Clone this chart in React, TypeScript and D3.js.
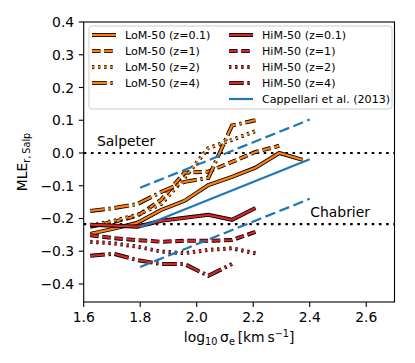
import * as d3 from "d3";

// log10 sigma_e bin centres
const sigmaBins = [1.623, 1.707, 1.79, 1.874, 1.957, 2.041, 2.125, 2.208, 2.292, 2.375];

// MLE_r relative to Salpeter
const lomZ01 = [-0.247, -0.231, -0.213, -0.174, -0.146, -0.098, -0.073, -0.045, 0.0, -0.021];
const lomZ1 = [-0.225, -0.21, -0.192, -0.143, -0.06, -0.057, -0.027, 0.003, 0.022];
const lomZ2 = [-0.222, -0.207, -0.189, -0.156, -0.076, 0.015, 0.04, 0.067];
const lomZ4 = [-0.177, -0.168, -0.156, -0.119, -0.088, -0.076, 0.084, 0.1];
const himZ01 = [-0.219, -0.222, -0.225, -0.207, -0.198, -0.189, -0.204, -0.168];
const himZ1 = [-0.251, -0.26, -0.266, -0.271, -0.268, -0.268, -0.266, -0.241];
const himZ2 = [-0.271, -0.276, -0.286, -0.301, -0.306, -0.296, -0.291, -0.306];
const himZ4 = [-0.314, -0.308, -0.327, -0.339, -0.339, -0.375, -0.339];

// Cappellari et al. (2013) relation and its scatter
const cappX = [1.8, 2.4];
const cappY = [-0.227, -0.019];
const cappScatter = 0.121;

const salpeterLevel = 0;
const chabrierLevel = -0.217;

const xTicks = [1.6, 1.8, 2.0, 2.2, 2.4, 2.6];
const yTicks = [-0.4, -0.3, -0.2, -0.1, 0.0, 0.1, 0.2, 0.3, 0.4];

const ORANGE = "#ff7f0e";
const RED = "#d62728";
const BLUE = "#1f77b4";

const W = 415;
const H = 363;
const left = 83.7, right = 394.5, top = 22, bottom = 302;

const x = d3.scaleLinear().domain([1.6, 2.7]).range([left, right]);
const y = d3.scaleLinear().domain([-0.455, 0.4]).range([bottom, top]);

const lw = 2.3;
const outlineW = 4.0;
const dashes: Record<string, string> = {
  solid: "none",
  dashed: `${3.7 * lw} ${1.6 * lw}`,
  dotted: `${1 * lw} ${1.65 * lw}`,
  dashdot: `${6.4 * lw} ${1.6 * lw} ${1 * lw} ${1.6 * lw}`,
};

const series = [
  { label: "LoM-50 (z=0.1)", values: lomZ01, color: ORANGE, style: "solid", col: 0, row: 0 },
  { label: "LoM-50 (z=1)", values: lomZ1, color: ORANGE, style: "dashed", col: 0, row: 1 },
  { label: "LoM-50 (z=2)", values: lomZ2, color: ORANGE, style: "dotted", col: 0, row: 2 },
  { label: "LoM-50 (z=4)", values: lomZ4, color: ORANGE, style: "dashdot", col: 0, row: 3 },
  { label: "HiM-50 (z=0.1)", values: himZ01, color: RED, style: "solid", col: 1, row: 0 },
  { label: "HiM-50 (z=1)", values: himZ1, color: RED, style: "dashed", col: 1, row: 1 },
  { label: "HiM-50 (z=2)", values: himZ2, color: RED, style: "dotted", col: 1, row: 2 },
  { label: "HiM-50 (z=4)", values: himZ4, color: RED, style: "dashdot", col: 1, row: 3 },
];

const line = d3
  .line<[number, number]>()
  .x((d) => x(d[0]))
  .y((d) => y(d[1]));

const font = "DejaVu Sans, sans-serif";
const fs = 13.9;
const legendFs = 11.1;

function fmt(v: number) {
  return d3.format(".1f")(v).replace("-", "\u2212");
}

export default function App() {
  const cappBlue = cappX.map((v, i) => [v, cappY[i]] as [number, number]);
  const cappUp = cappX.map((v, i) => [v, cappY[i] + cappScatter] as [number, number]);
  const cappLo = cappX.map((v, i) => [v, cappY[i] - cappScatter] as [number, number]);
  const blueDash = "10.5 4.5";
  const refDash = "2.6 4.6";

  const legX = 89, legY = 26, legW = 303, legH = 83;
  const rowY = (r: number) => 35 + r * 16;
  const colX = [92, 229];

  return (
    <svg
      width={W}
      height={H}
      style={{ position: "absolute", left: 0, top: 0, background: "#fff" }}
      fontFamily={font}
    >
      <rect x={0} y={0} width={W} height={H} fill="#fff" />

      {/* reference IMF levels */}
      {[salpeterLevel, chabrierLevel].map((lv, i) => (
        <line
          key={"ref" + i}
          x1={x(1.6)}
          x2={x(2.7)}
          y1={y(lv)}
          y2={y(lv)}
          stroke="#000"
          strokeWidth={2.2}
          strokeDasharray={refDash}
        />
      ))}
      <text x={x(1.647)} y={y(0.022)} fontSize={fs}>Salpeter</text>
      <text x={x(2.402)} y={y(-0.196)} fontSize={fs}>Chabrier</text>

      {/* simulation lines */}
      {series.map((s) => {
        const pts = s.values.map((v, i) => [sigmaBins[i], v] as [number, number]);
        const d = line(pts) || "";
        return (
          <g key={s.label}>
            <path d={d} fill="none" stroke="#000" strokeWidth={outlineW} strokeDasharray={dashes[s.style]} />
            <path d={d} fill="none" stroke={s.color} strokeWidth={lw} strokeDasharray={dashes[s.style]} />
          </g>
        );
      })}

      {/* Cappellari et al. 2013 */}
      <path d={line(cappUp) || ""} fill="none" stroke={BLUE} strokeWidth={2.2} strokeDasharray={blueDash} />
      <path d={line(cappLo) || ""} fill="none" stroke={BLUE} strokeWidth={2.2} strokeDasharray={blueDash} />
      <path d={line(cappBlue) || ""} fill="none" stroke={BLUE} strokeWidth={2.2} />

      {/* axes frame */}
      <rect x={left} y={top} width={right - left} height={bottom - top} fill="none" stroke="#000" strokeWidth={1.1} />

      {xTicks.map((t) => (
        <g key={"xt" + t}>
          <line x1={x(t)} x2={x(t)} y1={bottom} y2={bottom + 4.9} stroke="#000" strokeWidth={1.1} />
          <text x={x(t)} y={322} fontSize={fs} textAnchor="middle">{fmt(t)}</text>
        </g>
      ))}
      {yTicks.map((t) => (
        <g key={"yt" + t}>
          <line x1={left - 4.9} x2={left} y1={y(t)} y2={y(t)} stroke="#000" strokeWidth={1.1} />
          <text x={left - 9.5} y={y(t)} dy="0.36em" fontSize={fs} textAnchor="end">{fmt(t)}</text>
        </g>
      ))}

      {/* axis labels */}
      <text x={(left + right) / 2} y={342} fontSize={fs} textAnchor="middle">
        log<tspan fontSize={9.7} dy={3}>10</tspan>
        <tspan dy={-3}>{"\u2009σ"}</tspan>
        <tspan fontSize={9.7} dy={3}>e</tspan>
        <tspan dy={-3}>{"\u2009[km\u2009s"}</tspan>
        <tspan fontSize={9.7} dy={-5.5}>{"\u22121"}</tspan>
        <tspan dy={5.5}>]</tspan>
      </text>
      <text transform={`translate(27,${(top + bottom) / 2}) rotate(-90)`} fontSize={fs} textAnchor="middle">
        MLE<tspan fontSize={9.7} dy={2.8}>{"r,\u2009Salp"}</tspan>
      </text>

      {/* legend */}
      <rect x={legX} y={legY} width={legW} height={legH} rx={2.8} fill="#fff" fillOpacity={0.8} stroke="#cccccc" strokeWidth={1} />
      {series.map((s) => {
        const ly = rowY(s.row);
        const lx = colX[s.col];
        return (
          <g key={"leg" + s.label}>
            <line x1={lx} x2={lx + 24} y1={ly} y2={ly} stroke="#000" strokeWidth={outlineW} strokeDasharray={dashes[s.style]} />
            <line x1={lx} x2={lx + 24} y1={ly} y2={ly} stroke={s.color} strokeWidth={lw} strokeDasharray={dashes[s.style]} />
            <text x={lx + 33} y={ly} dy="0.36em" fontSize={legendFs}>{s.label}</text>
          </g>
        );
      })}
      <line x1={colX[1]} x2={colX[1] + 24} y1={rowY(4)} y2={rowY(4)} stroke={BLUE} strokeWidth={2.2} />
      <text x={colX[1] + 33} y={rowY(4)} dy="0.36em" fontSize={legendFs}>Cappellari et al. (2013)</text>
    </svg>
  );
}
